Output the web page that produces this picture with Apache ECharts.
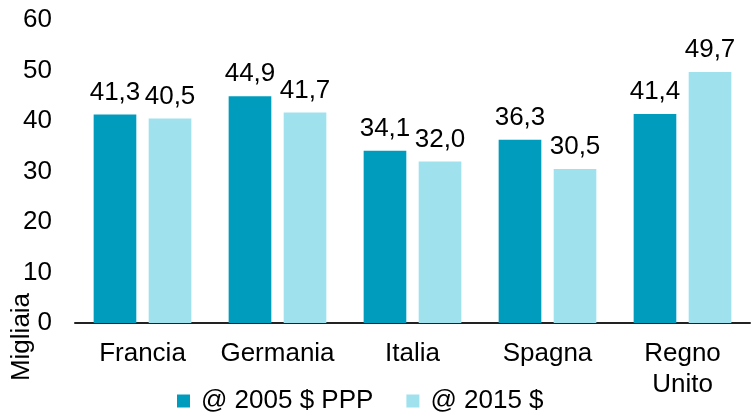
<!DOCTYPE html>
<html>
<head>
<meta charset="utf-8">
<script src="https://cdn.jsdelivr.net/npm/echarts@6/dist/echarts.min.js"></script>
<style>
  html, body { margin: 0; padding: 0; background: #fff; }
  #chart { width: 754px; height: 417px; }
</style>
</head>
<body>
<div id="chart"></div>
<script>
const categories = ["Francia", "Germania", "Italia", "Spagna", "Regno\nUnito"];
const ppp2005 = [41.3, 44.9, 34.1, 36.3, 41.4];
const usd2015 = [40.5, 41.7, 32.0, 30.5, 49.7];
const seriesNames = ["@ 2005 $ PPP", "@ 2015 $"];
const yTicks = { min: 0, max: 60, interval: 10 };

const font = "Liberation Sans, Arial, sans-serif";
const fmt = (v) => v.toFixed(1).replace(".", ",");

const chart = echarts.init(document.getElementById("chart"));

const labelStyle = {
  show: true,
  position: "top",
  distance: 9,
  color: "#000",
  fontFamily: font,
  fontSize: 26,
  formatter: (p) => fmt(p.value),
};

const option = {
  animation: false,
  grid: { left: 75, right: 4, top: 20, bottom: 94 },
  legend: {
    left: 177,
    top: 388,
    padding: 0,
    itemWidth: 13,
    itemHeight: 13,
    itemGap: 33,
    icon: "rect",
    textStyle: { color: "#000", fontFamily: font, fontSize: 26, padding: [0, 0, 0, 6] },
    data: seriesNames,
  },
  graphic: [
    {
      type: "text",
      x: 22,
      y: 337,
      rotation: Math.PI / 2,
      style: {
        text: "Migliaia",
        fill: "#000",
        font: "26px " + font,
        textAlign: "center",
        textVerticalAlign: "middle",
      },
    },
  ],
  xAxis: {
    type: "category",
    data: categories,
    axisLine: { lineStyle: { color: "#222", width: 2 } },
    axisTick: { show: false },
    axisLabel: {
      color: "#000",
      fontFamily: font,
      fontSize: 26,
      lineHeight: 31,
      margin: 15,
      interval: 0,
    },
  },
  yAxis: {
    type: "value",
    min: yTicks.min,
    max: yTicks.max,
    interval: yTicks.interval,
    axisLine: { show: false },
    axisTick: { show: false },
    splitLine: { show: false },
    axisLabel: {
      color: "#000",
      fontFamily: font,
      fontSize: 26,
      margin: 23,
    },
  },
  series: [
    {
      name: seriesNames[0],
      type: "bar",
      data: ppp2005,
      barWidth: "31.6%",
      barGap: "29%",
      itemStyle: { color: "#009CBE" },
      label: labelStyle,
    },
    {
      name: seriesNames[1],
      type: "bar",
      data: usd2015,
      barWidth: "31.6%",
      itemStyle: { color: "#A0E1EE" },
      label: labelStyle,
    },
  ],
};

chart.setOption(option);
</script>
</body>
</html>
